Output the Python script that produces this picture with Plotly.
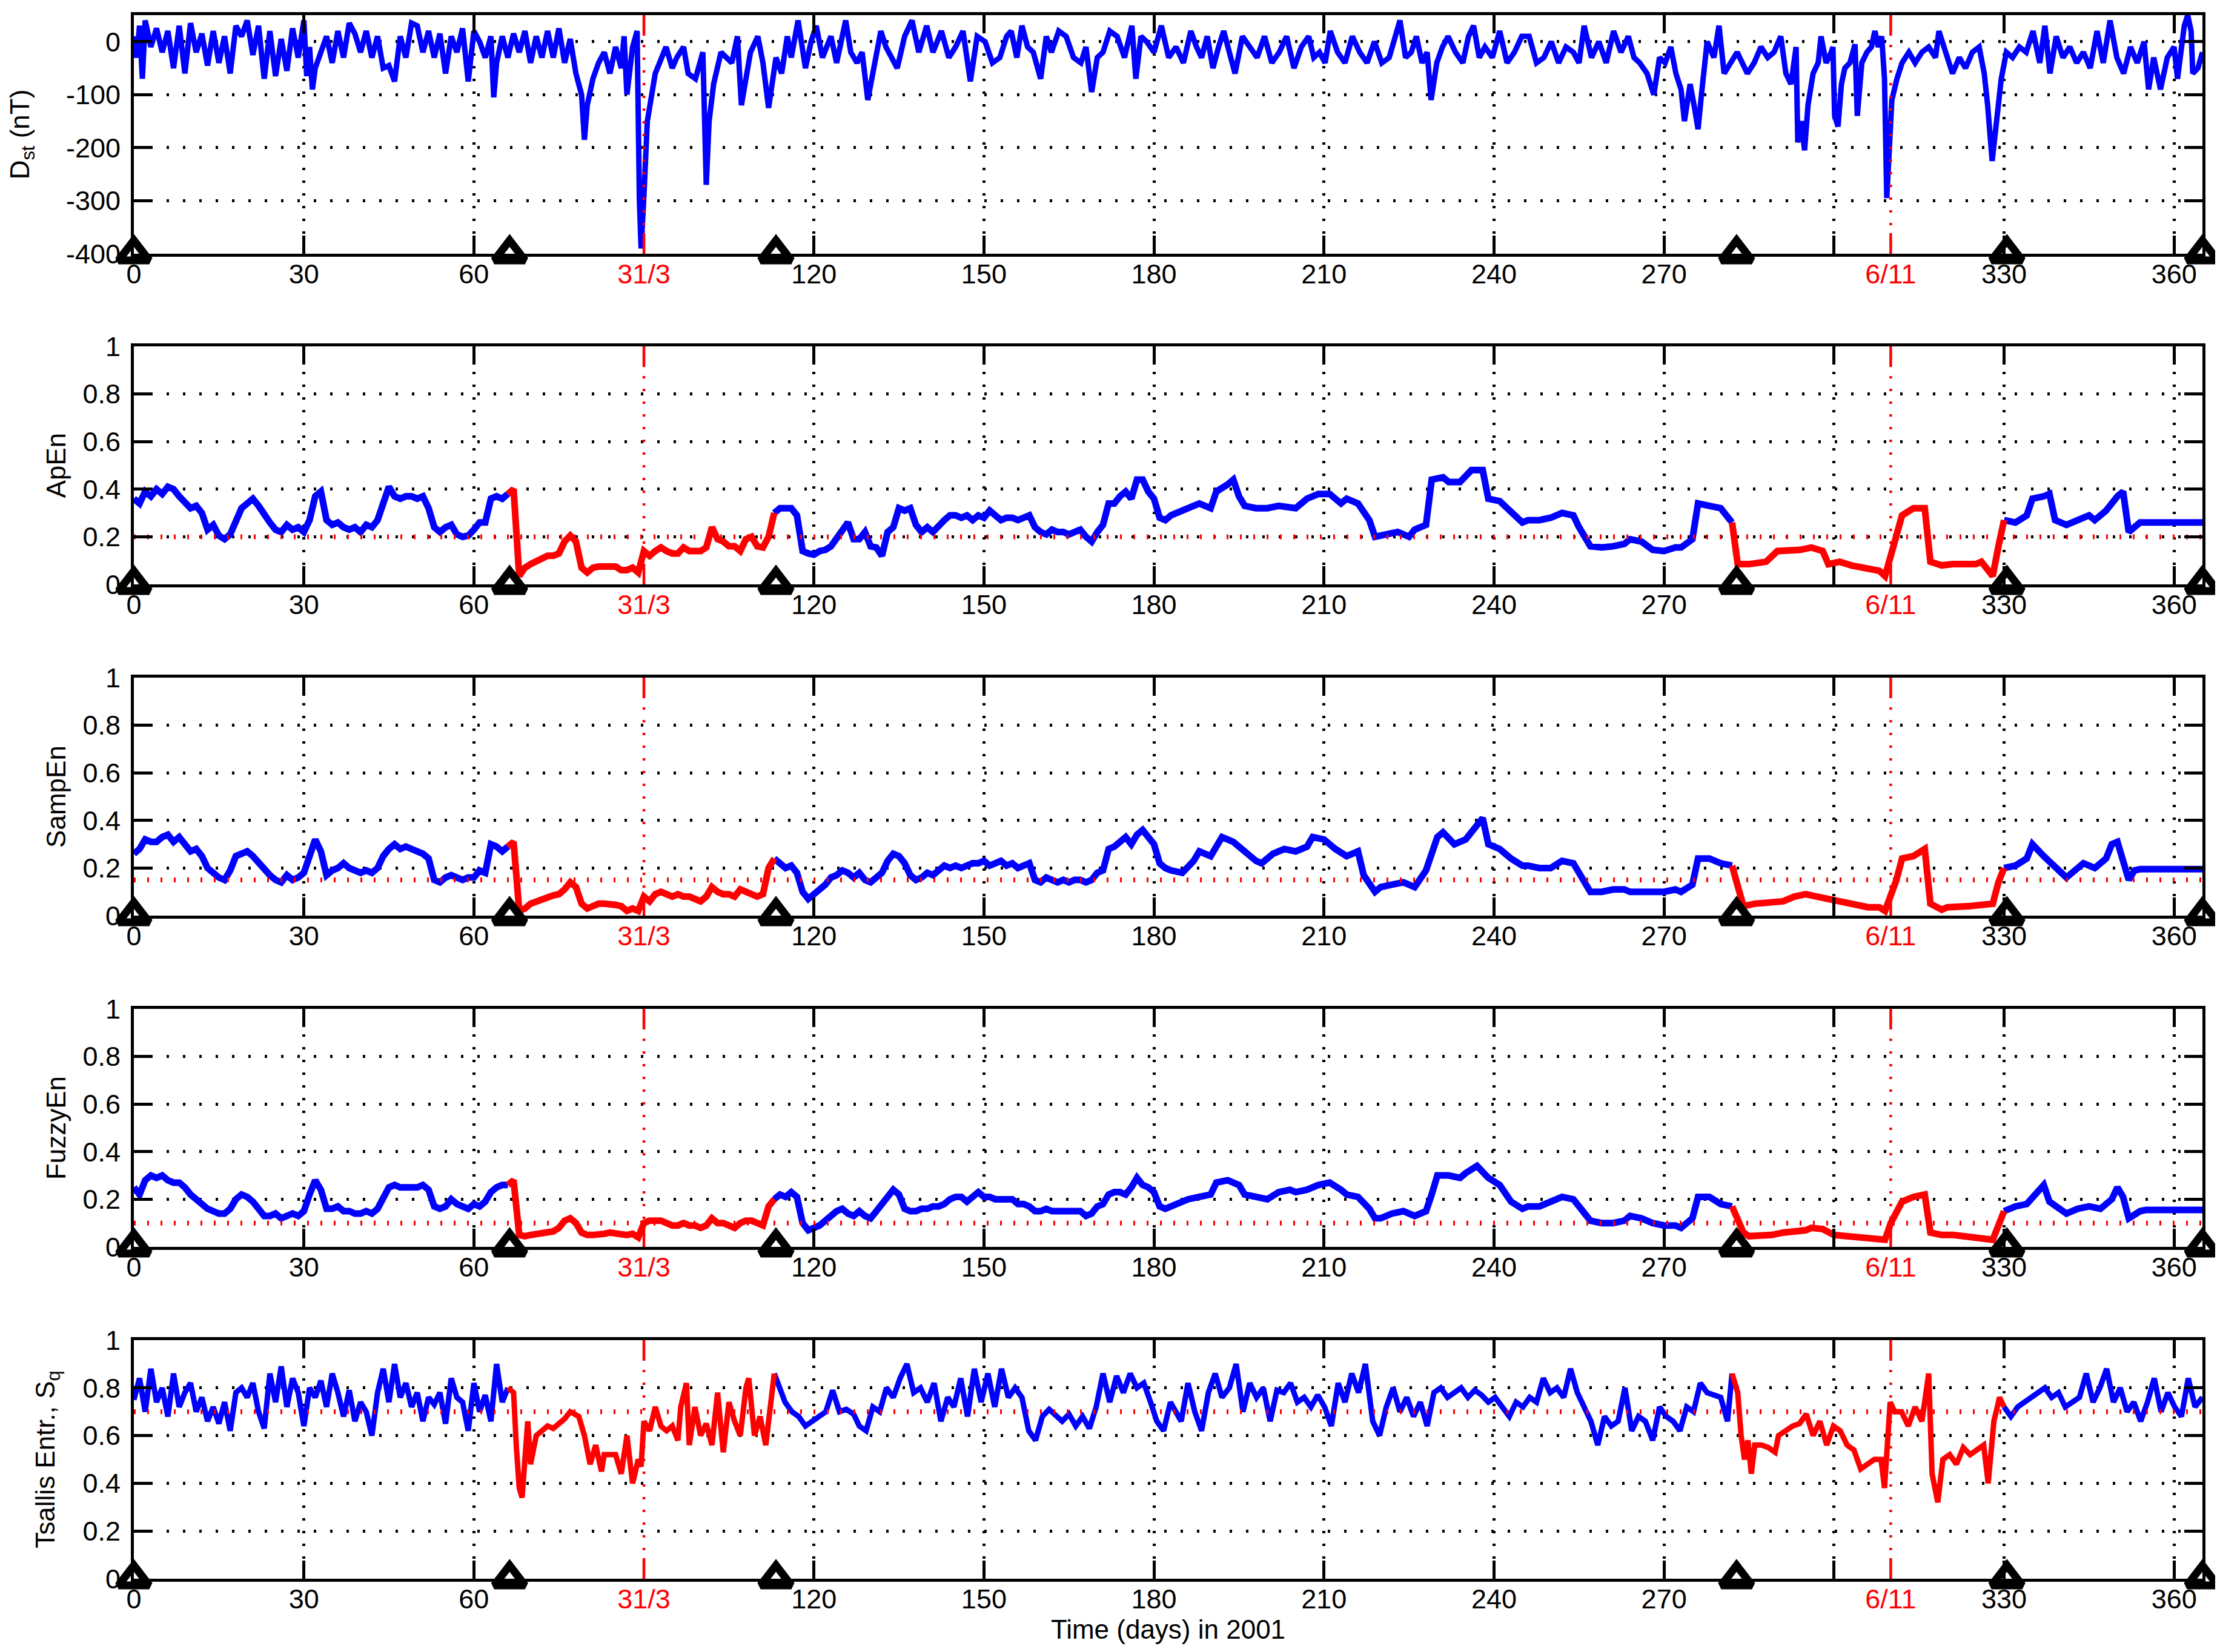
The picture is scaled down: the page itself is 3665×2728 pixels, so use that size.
import numpy as np
import plotly.graph_objects as go

# %% data (day of 2001, value)
dst = [
    (0, 10), (0.5, -30), (1, 30), (1.5, -70), (2, 40), (3, -10), (4, 25), (5, -20), (6, 20), (7, -50),
    (8, 30), (9, -60), (10, 35), (11, -20), (12, 15), (13, -45), (14, 20), (15, -40), (16, 10), (17, -60),
    (18, 30), (19, 10), (20, 40), (21, -25), (22, 30), (23, -70), (24, 20), (25, -65), (26, 5), (27, -55),
    (28, 25), (29, -30), (30, 40), (30.5, -65), (31, -10), (31.5, -90), (32, -50), (33, -20), (34, 10),
    (35, -40), (36, 20), (37, -30), (38, 35), (39, 15), (40, -20), (41, 20), (42, -30), (43, 10), (44, -50),
    (45, -45), (46, -75), (47, 10), (48, -30), (49, 35), (50, 30), (51, -20), (52, 20), (53, -30), (54, 15),
    (55, -60), (56, 10), (57, -20), (58, 25), (59, -75), (60, 20), (61, 0), (62, -30), (63, 10), (63.5, -105),
    (64, -40), (65, 10), (66, -30), (67, 15), (68, -20), (69, 20), (70, -40), (71, 10), (72, -30), (73, 20),
    (74, -30), (75, 25), (76, -40), (77, 5), (78, -60), (79, -100), (79.5, -185), (80, -120), (81, -70),
    (82, -40), (83, -20), (84, -60), (85, -10), (86, -50), (86.5, 10), (87, -100), (88, -10), (88.8, 20),
    (89.2, -300), (89.5, -390), (90, -290), (90.6, -150), (92, -60), (93.9, -10), (95, -50), (95.8, -30),
    (97, -10), (97.8, -60), (99.1, -70), (100.4, -20), (101, -270), (101.5, -150), (102.3, -80), (103.6, -20),
    (105.5, -40), (106.5, 10), (107.2, -120), (108.8, -20), (110.1, 10), (111, -40), (112, -125), (113.3, -30),
    (114.3, -60), (115.3, 10), (116, -30), (117.2, 40), (118.5, -50), (119.5, 0), (120.4, 30), (121.5, -30),
    (123, 10), (124, -40), (125.6, 40), (126.5, -20), (127.6, -40), (128.5, -20), (129.5, -110), (130.8, -40),
    (131.8, 20), (132.7, -10), (133.7, -30), (134.7, -50), (136, 10), (137.3, 40), (138.5, -20), (139.9, 30),
    (141, -20), (142.5, 20), (143.8, -30), (145, -10), (146.3, 20), (147.6, -75), (148.8, 10), (150.2, 0),
    (151.5, -40), (152.8, -30), (154, 10), (154.8, 20), (155.8, -30), (156.7, 30), (157.7, -10), (158.7, -20),
    (160, -70), (161, 10), (161.9, -20), (163.2, 20), (164.5, 10), (165.8, -30), (167.1, -40), (168, -10),
    (169, -95), (170, -30), (171, -20), (172.2, 20), (173.5, 10), (174.8, -30), (176.1, 30), (176.8, -70),
    (177.7, 10), (178.7, 0), (180, -20), (181.3, 30), (182.6, -30), (183.9, -10), (185.2, -40), (186.5, 20),
    (187.5, -10), (188.4, -30), (189.4, 10), (190.4, -50), (191.4, -10), (192.3, 20), (193.3, -20),
    (194.3, -60), (195.6, 10), (196.9, -10), (198.2, -30), (199.5, 10), (200.8, -40), (202.1, -20),
    (203.4, 10), (204.7, -50), (206, -10), (207.3, 10), (208.2, -30), (209.2, -20), (210.2, -40), (211.1, 20),
    (212.4, -20), (213.7, -40), (215, 10), (216.3, -20), (217.6, -40), (218.9, 0), (220.2, -40), (221.5, -30),
    (222.5, 10), (223.4, 40), (224.4, -30), (225.4, -20), (226.3, 10), (227.3, -40), (228.2, -20),
    (228.9, -110), (229.9, -40), (230.9, -10), (231.9, 10), (233.2, -20), (234.5, -40), (235.5, 10),
    (236.4, 30), (237.4, -30), (238.4, -10), (239.7, -30), (241, 20), (242.3, -40), (243.6, -20), (244.9, 10),
    (246.2, 10), (247.5, -40), (248.8, -30), (250.1, 0), (251.4, -40), (252.7, -10), (254, -20), (255, -40),
    (255.9, 30), (257.2, -30), (258.5, 0), (259.8, -40), (261.1, 20), (262.4, -20), (263.7, 10), (264.7, -30),
    (265.7, -40), (267, -60), (268.2, -100), (269.2, -30), (270.2, -40), (271.2, -10), (272.1, -60),
    (273, -90), (273.6, -150), (274.6, -80), (275.3, -120), (276, -165), (276.6, -100), (277.6, 0),
    (278.8, -30), (279.7, 30), (280.6, -60), (281.7, -40), (282.9, -20), (283.8, -40), (284.7, -60),
    (285.9, -40), (287.1, -10), (288.3, -30), (289.4, -20), (290.6, 10), (291.5, -60), (292.4, -80),
    (293.3, -10), (293.6, -190), (294.2, -150), (294.8, -205), (295.4, -120), (296.3, -60), (297.2, -40),
    (297.7, 10), (298.6, -40), (299.5, -20), (299.8, -10), (300.1, -140), (300.7, -160), (301.3, -80),
    (301.9, -50), (302.8, -40), (303.7, -5), (304.1, -140), (304.9, -40), (305.8, -20), (306.6, -10),
    (307.2, 20), (307.8, -10), (308.4, 10), (308.9, -70), (309.3, -295), (309.7, -200), (310.2, -110),
    (311.1, -70), (312, -40), (313.2, -20), (314.3, -40), (315.5, -20), (316.7, -10), (317.9, -30),
    (318.5, 20), (319.7, -20), (320.9, -60), (322.1, -30), (323.2, -50), (324.4, -20), (325.6, -10),
    (326.5, -60), (327.1, -120), (327.9, -225), (328.6, -150), (329.5, -70), (330.4, -20), (331.5, -30),
    (332.7, -10), (333.9, -20), (335.1, 20), (336.3, -40), (337.2, 30), (338.1, -60), (339.2, 10),
    (340.4, -30), (341.6, -10), (342.8, -40), (344, -20), (345.2, -50), (346.4, 20), (347.5, -40),
    (348.7, 40), (349.9, -30), (351.1, -60), (352.3, -10), (353.5, -40), (354.7, 0), (355.5, -90),
    (356.4, -30), (357.6, -90), (358.8, -30), (360, -10), (360.6, -70), (361.8, 30), (362.4, 50), (363, 20),
    (363.3, -60), (364.2, -50), (365, -20),
]

# ApEn: daily values for days 0-183, then sparser readings
apen_daily = [
    0.36, 0.34, 0.39, 0.37, 0.40, 0.38, 0.41, 0.40, 0.37, 0.34,
    0.32, 0.33, 0.30, 0.23, 0.25, 0.205, 0.19, 0.21, 0.26, 0.32,
    0.34, 0.36, 0.33, 0.29, 0.26, 0.23, 0.22, 0.25, 0.23, 0.24,
    0.22, 0.27, 0.37, 0.39, 0.27, 0.25, 0.26, 0.24, 0.23, 0.24,
    0.22, 0.25, 0.24, 0.27, 0.35, 0.41, 0.37, 0.36, 0.37, 0.37,
    0.36, 0.37, 0.32, 0.24, 0.22, 0.24, 0.25, 0.21, 0.20, 0.205,
    0.23, 0.26, 0.26, 0.36, 0.37, 0.36, 0.38, 0.40, 0.035, 0.07,
    0.085, 0.095, 0.11, 0.12, 0.12, 0.13, 0.18, 0.205, 0.18, 0.07,
    0.05, 0.07, 0.075, 0.075, 0.07, 0.075, 0.06, 0.06, 0.07, 0.05,
    0.14, 0.12, 0.14, 0.155, 0.14, 0.13, 0.13, 0.155, 0.14, 0.14,
    0.14, 0.155, 0.24, 0.19, 0.18, 0.16, 0.16, 0.14, 0.19, 0.20,
    0.16, 0.155, 0.20, 0.30, 0.32, 0.32, 0.32, 0.29, 0.14, 0.13,
    0.125, 0.14, 0.145, 0.16, 0.19, 0.22, 0.26, 0.19, 0.19, 0.22,
    0.16, 0.155, 0.12, 0.22, 0.24, 0.32, 0.31, 0.32, 0.25, 0.22,
    0.24, 0.22, 0.25, 0.27, 0.29, 0.29, 0.28, 0.29, 0.27, 0.29,
    0.28, 0.31, 0.29, 0.27, 0.28, 0.28, 0.27, 0.28, 0.29, 0.24,
    0.22, 0.21, 0.23, 0.22, 0.22, 0.21, 0.22, 0.23, 0.20, 0.18,
    0.22, 0.25, 0.34, 0.34, 0.37, 0.39, 0.36, 0.44, 0.44, 0.39,
    0.36, 0.28, 0.27, 0.29,
]
apen_late_days = [
    185, 187, 188, 190, 191, 193, 194, 195, 196, 198, 200, 202, 204, 205, 207, 209, 211, 213, 214, 216,
    218, 219, 221, 223, 225, 226, 228, 229, 231, 232, 234, 236, 238, 239, 241, 243, 245, 246, 248, 250,
    252, 254, 255, 257, 259, 261, 263, 264, 266, 268, 270, 272, 273, 275, 276, 278, 280, 282, 283, 285,
    287, 288, 290, 292, 294, 296, 298, 299, 301, 303, 305, 307, 308, 309, 311, 312, 314, 316, 317, 319,
    321, 323, 325, 326, 328, 329, 330, 332, 334, 335, 337, 338, 339, 341, 343, 345, 346, 348, 350, 351,
    352, 354, 355, 365,
]
apen_late = [
    0.31, 0.33, 0.34, 0.32, 0.39, 0.42, 0.44, 0.37, 0.33, 0.32, 0.32, 0.33, 0.32, 0.32, 0.36, 0.38, 0.38, 0.34, 0.36, 0.34,
    0.27, 0.20, 0.21, 0.22, 0.20, 0.23, 0.25, 0.44, 0.45, 0.43, 0.43, 0.48, 0.48, 0.36, 0.35, 0.30, 0.26, 0.27, 0.27, 0.28,
    0.30, 0.29, 0.24, 0.16, 0.155, 0.16, 0.17, 0.19, 0.18, 0.145, 0.14, 0.155, 0.155, 0.19, 0.34, 0.33, 0.32, 0.26, 0.085, 0.085,
    0.095, 0.095, 0.14, 0.14, 0.145, 0.155, 0.14, 0.085, 0.095, 0.08, 0.07, 0.06, 0.057, 0.035, 0.19, 0.29, 0.32, 0.32, 0.095, 0.08,
    0.085, 0.085, 0.085, 0.095, 0.035, 0.16, 0.27, 0.26, 0.29, 0.36, 0.37, 0.38, 0.27, 0.25, 0.27, 0.29, 0.27, 0.31, 0.37, 0.39,
    0.22, 0.26, 0.26, 0.26,
]

sampen_daily = [
    0.26, 0.28, 0.32, 0.31, 0.31, 0.33, 0.34, 0.31, 0.33, 0.30,
    0.27, 0.28, 0.25, 0.20, 0.18, 0.16, 0.15, 0.19, 0.25, 0.26,
    0.27, 0.25, 0.22, 0.19, 0.17, 0.15, 0.14, 0.17, 0.15, 0.16,
    0.18, 0.25, 0.32, 0.27, 0.17, 0.19, 0.20, 0.22, 0.20, 0.19,
    0.18, 0.19, 0.18, 0.20, 0.25, 0.28, 0.30, 0.28, 0.29, 0.28,
    0.27, 0.26, 0.24, 0.15, 0.14, 0.16, 0.17, 0.16, 0.15, 0.16,
    0.16, 0.19, 0.18, 0.30, 0.29, 0.27, 0.29, 0.31, 0.02, 0.03,
    0.05, 0.06, 0.07, 0.08, 0.085, 0.09, 0.11, 0.14, 0.12, 0.05,
    0.03, 0.04, 0.05, 0.05, 0.05, 0.045, 0.04, 0.02, 0.03, 0.02,
    0.08, 0.06, 0.09, 0.10, 0.09, 0.08, 0.09, 0.08, 0.08, 0.07,
    0.06, 0.08, 0.12, 0.10, 0.09, 0.09, 0.08, 0.11, 0.10, 0.09,
    0.08, 0.09, 0.20, 0.24, 0.22, 0.20, 0.21, 0.18, 0.10, 0.07,
    0.09, 0.11, 0.13, 0.16, 0.17, 0.19, 0.18, 0.16, 0.18, 0.15,
    0.14, 0.16, 0.18, 0.23, 0.26, 0.25, 0.22, 0.17, 0.15, 0.16,
    0.18, 0.17, 0.19, 0.21, 0.20, 0.21, 0.20, 0.21, 0.22, 0.22,
    0.23, 0.21, 0.22, 0.23, 0.21, 0.22, 0.20, 0.21, 0.22, 0.15,
    0.14, 0.16, 0.15, 0.14, 0.15, 0.14, 0.15, 0.15, 0.14, 0.15,
    0.18, 0.19, 0.28, 0.29, 0.31, 0.33, 0.30, 0.34, 0.36, 0.33,
    0.30, 0.22, 0.20, 0.19,
]
sampen_late_days = [
    185, 187, 188, 190, 192, 194, 196, 198, 199, 201, 203, 205, 207, 208, 210, 212, 214, 216, 217, 219,
    220, 222, 224, 226, 228, 229, 230, 231, 233, 235, 237, 238, 239, 241, 243, 245, 246, 248, 250, 252,
    254, 255, 257, 259, 261, 263, 264, 266, 268, 270, 272, 273, 275, 276, 278, 280, 282, 284, 286, 288,
    290, 291, 293, 295, 297, 299, 300, 302, 304, 306, 308, 309, 311, 312, 314, 316, 317, 319, 320, 322,
    324, 326, 328, 329, 330, 332, 334, 335, 337, 339, 341, 343, 344, 346, 348, 349, 350, 352, 353, 354,
    365,
]
sampen_late = [
    0.18, 0.23, 0.27, 0.25, 0.33, 0.31, 0.27, 0.23, 0.22, 0.26, 0.28, 0.27, 0.29, 0.33, 0.32, 0.28, 0.25, 0.27, 0.17, 0.10,
    0.12, 0.13, 0.14, 0.12, 0.19, 0.26, 0.33, 0.35, 0.30, 0.32, 0.38, 0.41, 0.30, 0.28, 0.24, 0.21, 0.21, 0.20, 0.20, 0.23,
    0.22, 0.18, 0.10, 0.10, 0.11, 0.11, 0.10, 0.10, 0.10, 0.10, 0.11, 0.10, 0.13, 0.24, 0.24, 0.22, 0.21, 0.04, 0.05, 0.055,
    0.055, 0.06, 0.08, 0.09, 0.08, 0.07, 0.06, 0.05, 0.04, 0.035, 0.035, 0.02, 0.15, 0.24, 0.25, 0.28, 0.05, 0.025, 0.035, 0.035,
    0.04, 0.045, 0.05, 0.14, 0.20, 0.21, 0.24, 0.30, 0.25, 0.20, 0.16, 0.20, 0.22, 0.20, 0.24, 0.30, 0.31, 0.15, 0.19, 0.195,
    0.195,
]

fuzzy_daily = [
    0.25, 0.22, 0.28, 0.30, 0.29, 0.30, 0.28, 0.27, 0.27, 0.25,
    0.22, 0.20, 0.18, 0.16, 0.15, 0.14, 0.14, 0.16, 0.20, 0.22,
    0.21, 0.19, 0.16, 0.13, 0.13, 0.14, 0.12, 0.13, 0.14, 0.13,
    0.15, 0.22, 0.28, 0.24, 0.16, 0.16, 0.17, 0.15, 0.15, 0.14,
    0.14, 0.15, 0.14, 0.16, 0.20, 0.25, 0.26, 0.25, 0.25, 0.25,
    0.25, 0.26, 0.24, 0.17, 0.16, 0.17, 0.20, 0.18, 0.17, 0.16,
    0.18, 0.17, 0.19, 0.23, 0.25, 0.26, 0.26, 0.28, 0.05, 0.045,
    0.05, 0.055, 0.06, 0.06, 0.065, 0.08, 0.11, 0.12, 0.10, 0.06,
    0.05, 0.05, 0.05, 0.055, 0.06, 0.055, 0.055, 0.05, 0.055, 0.04,
    0.10, 0.11, 0.11, 0.11, 0.10, 0.09, 0.09, 0.10, 0.09, 0.09,
    0.08, 0.09, 0.12, 0.10, 0.10, 0.09, 0.08, 0.10, 0.11, 0.11,
    0.10, 0.09, 0.17, 0.20, 0.22, 0.21, 0.23, 0.21, 0.10, 0.07,
    0.08, 0.09, 0.11, 0.13, 0.15, 0.16, 0.14, 0.13, 0.15, 0.13,
    0.12, 0.15, 0.18, 0.22, 0.24, 0.22, 0.16, 0.15, 0.15, 0.16,
    0.16, 0.17, 0.17, 0.18, 0.20, 0.21, 0.21, 0.19, 0.21, 0.23,
    0.21, 0.21, 0.20, 0.20, 0.20, 0.20, 0.18, 0.18, 0.17, 0.15,
    0.15, 0.16, 0.15, 0.15, 0.15, 0.15, 0.15, 0.15, 0.13, 0.14,
    0.17, 0.18, 0.22, 0.23, 0.23, 0.22, 0.25, 0.29, 0.26, 0.25,
    0.23, 0.17, 0.16, 0.17,
]
fuzzy_late_days = [
    184, 186, 188, 190, 191, 193, 195, 196, 198, 200, 202, 204, 205, 207, 209, 211, 213, 214, 216, 218,
    219, 220, 222, 224, 226, 228, 229, 230, 232, 234, 235, 237, 239, 241, 243, 245, 246, 248, 250, 252,
    254, 255, 257, 259, 261, 263, 264, 266, 268, 270, 272, 273, 275, 276, 278, 280, 282, 284, 285, 287,
    289, 291, 293, 295, 296, 298, 300, 302, 304, 305, 307, 309, 310, 312, 314, 316, 317, 319, 321, 323,
    325, 326, 328, 329, 330, 332, 334, 335, 337, 338, 340, 341, 343, 345, 347, 349, 350, 351, 352, 354,
    355, 365,
]
fuzzy_late = [
    0.18, 0.20, 0.21, 0.22, 0.27, 0.28, 0.26, 0.22, 0.21, 0.20, 0.23, 0.24, 0.23, 0.24, 0.26, 0.27, 0.24, 0.22, 0.21, 0.16,
    0.12, 0.12, 0.14, 0.15, 0.13, 0.15, 0.22, 0.30, 0.30, 0.29, 0.31, 0.34, 0.29, 0.26, 0.19, 0.16, 0.17, 0.17, 0.19, 0.21,
    0.20, 0.17, 0.11, 0.10, 0.10, 0.11, 0.13, 0.12, 0.10, 0.09, 0.09, 0.08, 0.12, 0.21, 0.21, 0.18, 0.17, 0.06, 0.045, 0.045,
    0.05, 0.06, 0.065, 0.07, 0.08, 0.075, 0.05, 0.045, 0.04, 0.04, 0.035, 0.03, 0.10, 0.19, 0.21, 0.22, 0.06, 0.05, 0.05, 0.045,
    0.04, 0.04, 0.03, 0.09, 0.15, 0.17, 0.18, 0.21, 0.26, 0.19, 0.16, 0.14, 0.16, 0.17, 0.16, 0.20, 0.25, 0.21, 0.12, 0.15,
    0.155, 0.155,
]

tsallis_daily = [
    0.75, 0.84, 0.70, 0.88, 0.74, 0.80, 0.68, 0.86, 0.72, 0.78,
    0.82, 0.70, 0.76, 0.66, 0.72, 0.65, 0.74, 0.62, 0.78, 0.80,
    0.76, 0.82, 0.70, 0.63, 0.86, 0.74, 0.89, 0.72, 0.84, 0.78,
    0.64, 0.80, 0.76, 0.83, 0.72, 0.86, 0.78, 0.68, 0.79, 0.66,
    0.74, 0.70, 0.60, 0.78, 0.88, 0.74, 0.90, 0.76, 0.82, 0.72,
    0.78, 0.66, 0.76, 0.73, 0.78, 0.65, 0.84, 0.76, 0.74, 0.62,
    0.82, 0.70, 0.77, 0.66, 0.90, 0.74, 0.80,
]
tsallis_late_days = [
    67, 67.5, 68, 68.5, 69, 69.5, 70, 71, 72, 73, 74, 75, 76, 77, 78, 78.5, 79.5, 80.5, 81.5, 82.5,
    83, 84, 85, 86, 87, 88, 89, 89.5, 90, 91, 92, 93, 94, 95, 96, 96.5, 97.5, 98, 99, 100,
    101, 102, 103, 104, 105, 106, 107, 108, 108.5, 109.5, 110.5, 111.5, 112.5, 113,
    114.9, 116.1, 117.3, 118.5, 119.7, 120.9, 122.1, 123.3, 124.5, 125.7, 127, 128, 129.2, 130.4, 131.6,
    132.8, 134, 135.2, 136.4, 137.6, 138.8, 140, 141.2, 142.4, 143.6, 144.7, 145.9, 147.1, 148.3, 149.5,
    150.7, 151.9, 153.1, 154.3, 155.5, 156.7, 157.9, 159.1, 160.3, 161.5, 162.7, 163.8, 165, 166.2, 167.4,
    168.6, 169.8, 171, 172.2, 173.4, 174.6, 175.8, 177, 178.2, 179.4, 180.5, 181.7, 182.9,
    184.8, 186, 187.2, 188.4, 189.6, 190.8, 192, 193.3, 194.5, 195.7, 196.9, 198.1, 199.3, 200.5, 201.7,
    202.9, 204.1, 205.3, 206.5, 207.7, 208.9, 210.1, 211.3, 212.5, 213.7, 214.9, 216.1, 217.3, 218.6, 219.8,
    221, 222.2, 223.4, 224.6, 225.8, 227, 228.2, 229.4, 230.6, 231.8, 233, 234.2, 235.4, 236.6, 237.8,
    239, 240.2, 241.4, 242.7, 243.9, 245.1, 246.3, 247.5, 248.7, 249.9, 251.1, 252.3, 253.5, 254.7, 255.9,
    257.1, 258.3, 259.5, 260.7, 261.9, 263.1, 264.3, 265.5, 266.7, 268, 269.2, 270.4, 271.6, 272.8, 274,
    275.2, 276.4, 277.6, 278.8, 280, 281.2, 282,
    283, 283.6, 284.2, 284.8, 285.4, 286, 287.2, 288.4, 289.6, 290.2, 291.4, 292.7, 293.9, 295.1, 296.3,
    297.5, 298.7, 299.9, 301.1, 302.3, 303.5, 304.7, 305.9, 307.1, 308.3, 308.9, 309.9, 310.7, 311.9, 313.1,
    314.3, 315.5, 316.7, 317.3, 318.3, 319.2, 320.4, 321.6, 322.8, 324, 325.2, 326.4, 327.2, 328.2, 329.2, 330,
    331.2, 332.4, 333.6, 334.8, 336, 337.2, 338.4, 339.6, 340.8, 342, 343.3, 344.5, 345.7, 346.9, 348.1,
    349.3, 350.5, 351.7, 352.9, 354.1, 355.3, 356.5, 357.7, 358.9, 360.1, 361.3, 362.5, 363.7, 365,
]
tsallis_late = [
    0.78, 0.55, 0.38, 0.34, 0.55, 0.66, 0.48, 0.60, 0.62, 0.64, 0.63, 0.65, 0.67, 0.70, 0.69, 0.68, 0.60, 0.48, 0.56, 0.45,
    0.52, 0.52, 0.52, 0.44, 0.60, 0.40, 0.50, 0.47, 0.66, 0.62, 0.72, 0.64, 0.62, 0.64, 0.58, 0.72, 0.82, 0.56, 0.72, 0.60,
    0.65, 0.56, 0.78, 0.53, 0.74, 0.66, 0.60, 0.80, 0.84, 0.60, 0.68, 0.56, 0.74, 0.86,
    0.74, 0.70, 0.68, 0.64, 0.66, 0.68, 0.70, 0.79, 0.70, 0.71, 0.69, 0.64, 0.62, 0.72, 0.70,
    0.80, 0.76, 0.84, 0.90, 0.78, 0.80, 0.74, 0.82, 0.66, 0.76, 0.72, 0.84, 0.68, 0.88, 0.74,
    0.86, 0.72, 0.88, 0.76, 0.80, 0.76, 0.62, 0.58, 0.68, 0.71, 0.68, 0.66, 0.69, 0.64, 0.68,
    0.63, 0.72, 0.86, 0.74, 0.85, 0.78, 0.86, 0.80, 0.82, 0.74, 0.66, 0.62, 0.74,
    0.66, 0.82, 0.70, 0.62, 0.78, 0.86, 0.76, 0.80, 0.90, 0.70, 0.82, 0.76, 0.80, 0.66, 0.79,
    0.78, 0.82, 0.74, 0.76, 0.72, 0.77, 0.72, 0.64, 0.82, 0.74, 0.86, 0.78, 0.90, 0.66, 0.60,
    0.72, 0.80, 0.70, 0.76, 0.68, 0.74, 0.64, 0.78, 0.80, 0.76, 0.78, 0.80, 0.76, 0.79, 0.77,
    0.74, 0.76, 0.72, 0.68, 0.74, 0.72, 0.76, 0.74, 0.84, 0.78, 0.80, 0.76, 0.88, 0.78, 0.72,
    0.66, 0.56, 0.68, 0.64, 0.66, 0.80, 0.62, 0.68, 0.66, 0.58, 0.72, 0.68, 0.66, 0.62, 0.72,
    0.70, 0.82, 0.78, 0.77, 0.76, 0.66, 0.86,
    0.78, 0.60, 0.50, 0.58, 0.44, 0.56, 0.56, 0.55, 0.53, 0.60, 0.62, 0.64, 0.65, 0.69, 0.60,
    0.66, 0.56, 0.64, 0.62, 0.56, 0.54, 0.46, 0.48, 0.50, 0.50, 0.38, 0.74, 0.70, 0.70, 0.64,
    0.72, 0.66, 0.86, 0.44, 0.32, 0.50, 0.52, 0.48, 0.55, 0.52, 0.54, 0.56, 0.40, 0.66, 0.76, 0.72,
    0.68, 0.72, 0.74, 0.76, 0.78, 0.80, 0.76, 0.78, 0.72, 0.74, 0.76, 0.86, 0.74, 0.80, 0.88,
    0.74, 0.80, 0.70, 0.74, 0.66, 0.74, 0.84, 0.70, 0.78, 0.72, 0.68, 0.84, 0.72, 0.76,
]

thresholds = [None, 0.20, 0.15, 0.10, 0.70]
red_spans = [(66, 113), (282, 330)]           # pre-storm intervals drawn in red
triangle_days = [0, 66.3, 113.3, 282.8, 330.5, 365]
event_days = [90, 310]
event_labels = ["31/3", "6/11"]
y_titles = ["D<sub>st</sub> (nT)", "ApEn", "SampEn", "FuzzyEn", "Tsallis Entr., S<sub>q</sub>"]
day_ticks = [0, 30, 60, 90, 120, 150, 180, 210, 240, 270, 310, 330, 360]
grid_days = [30, 60, 120, 150, 180, 210, 240, 270, 300, 330, 360]

# %% layout helpers
W, H = 3665, 2728
FONT = "Liberation Sans, Arial, sans-serif"
BLUE, RED = "#0000ff", "#ff0000"
panels_px = [(17, 411), (564, 957), (1111, 1504), (1658, 2051), (2205, 2599)]
x_dom = [213 / W, 3628 / W]
line_w = [9, 11, 11, 11, 9]
title_standoff = [48, 16, 16, 16, 34]


def ax(name, i):
    return name if i == 1 else "{}{}".format(name, i)


def none_where(mask, vals):
    return [None if m else float(v) for m, v in zip(mask, vals)]


def add_split(fig, i, days, vals, width):
    d = np.asarray(days, float)
    inner = np.zeros(d.size, bool)
    closed = np.zeros(d.size, bool)
    for a, b in red_spans:
        inner |= (d > a) & (d < b)
        closed |= (d >= a) & (d <= b)
    fig.add_trace(go.Scatter(x=d, y=none_where(inner, vals), mode="lines",
                             line=dict(color=BLUE, width=width),
                             xaxis=ax("x", i), yaxis=ax("y", i)))
    fig.add_trace(go.Scatter(x=d, y=none_where(~closed, vals), mode="lines",
                             line=dict(color=RED, width=width),
                             xaxis=ax("x", i), yaxis=ax("y", i)))


def event_dash(h):
    # long dash at both ends of the marker line, dots in between
    parts = [34, 15, 4]
    used = 53
    while used + 21 + 12 + 34 <= h:
        parts += [17, 4]
        used += 21
    parts += [h - used - 34, 34, 3000]
    return ",".join("{}px".format(p) for p in parts)


fig = go.Figure()

dst_d = [p[0] for p in dst]
dst_v = [p[1] for p in dst]
fig.add_trace(go.Scatter(x=dst_d, y=dst_v, mode="lines",
                         line=dict(color=BLUE, width=line_w[0])))

add_split(fig, 2, list(range(len(apen_daily))) + apen_late_days, apen_daily + apen_late, line_w[1])
add_split(fig, 3, list(range(len(sampen_daily))) + sampen_late_days, sampen_daily + sampen_late, line_w[2])
add_split(fig, 4, list(range(len(fuzzy_daily))) + fuzzy_late_days, fuzzy_daily + fuzzy_late, line_w[3])
add_split(fig, 5, list(range(len(tsallis_daily))) + tsallis_late_days, tsallis_daily + tsallis_late, line_w[4])

y_ranges = [[-400, 50]] + [[0, 1]] * 4
for i in range(1, 6):
    lo, hi = y_ranges[i - 1]
    thr = thresholds[i - 1]
    if thr is not None:
        fig.add_trace(go.Scatter(x=[0, 365], y=[thr, thr], mode="lines",
                                 line=dict(color=RED, width=8, dash="3px,19px"),
                                 xaxis=ax("x", i), yaxis=ax("y", i)))
    h = panels_px[i - 1][1] - panels_px[i - 1][0]
    for ev in event_days:
        fig.add_trace(go.Scatter(x=[ev, ev], y=[hi, lo], mode="lines",
                                 line=dict(color=RED, width=4.5, dash=event_dash(h)),
                                 xaxis=ax("x", i), yaxis=ax("y", i)))
    fig.add_trace(go.Scatter(x=triangle_days, y=[lo] * len(triangle_days), mode="markers",
                             marker=dict(symbol="triangle-up", size=44, color="white",
                                         line=dict(color="black", width=13)),
                             cliponaxis=False,
                             xaxis=ax("x", i), yaxis=ax("y", i)))

tick_text = []
for t in day_ticks:
    if t in event_days:
        tick_text.append('<span style="color:#ff0000">{}</span>'
                         .format(event_labels[event_days.index(t)]))
    else:
        tick_text.append(str(t))

layout = dict(width=W, height=H, showlegend=False, template="none",
              paper_bgcolor="white", plot_bgcolor="white",
              margin=dict(l=0, r=0, t=0, b=0),
              font=dict(family=FONT, size=44, color="black"))

for i in range(1, 6):
    top, bot = panels_px[i - 1]
    lo, hi = y_ranges[i - 1]
    if i == 1:
        yt = [-400, -300, -200, -100, 0]
        ytt = [str(v) for v in yt]
    else:
        yt = [0, 0.2, 0.4, 0.6, 0.8, 1]
        ytt = ["0", "0.2", "0.4", "0.6", "0.8", "1"]
    xa = dict(domain=x_dom, range=[0, 365], anchor=ax("y", i),
              tickmode="array", tickvals=day_ticks, ticktext=tick_text,
              ticks="", showline=True, linewidth=5, linecolor="black",
              mirror="ticks", showgrid=False, zeroline=False,
              tickfont=dict(family=FONT, size=45, color="black"),
              ticklabelstandoff=-10, automargin=False,
              minor=dict(tickmode="array", tickvals=grid_days, ticks="inside",
                         ticklen=30, tickwidth=5, tickcolor="black",
                         showgrid=True, gridcolor="black", gridwidth=4.5,
                         griddash="4px,17px"))
    if i == 5:
        xa["title"] = dict(text="Time (days) in 2001",
                           font=dict(family=FONT, size=44, color="black"),
                           standoff=4)
    ya = dict(domain=[1 - bot / H, 1 - top / H], range=[lo, hi], anchor=ax("x", i),
              tickmode="array", tickvals=yt, ticktext=ytt,
              ticks="inside", ticklen=30, tickwidth=5, tickcolor="black",
              showline=True, linewidth=5, linecolor="black", mirror="ticks",
              showgrid=True, gridcolor="black", gridwidth=4.5, griddash="4px,23px",
              zeroline=False, automargin=False, ticklabelstandoff=8,
              tickfont=dict(family=FONT, size=45, color="black"),
              title=dict(text=y_titles[i - 1],
                         font=dict(family=FONT, size=44, color="black"),
                         standoff=title_standoff[i - 1]))
    layout[ax("xaxis", i)] = xa
    layout[ax("yaxis", i)] = ya

fig.update_layout(**layout)
fig.write_html("out.html")
